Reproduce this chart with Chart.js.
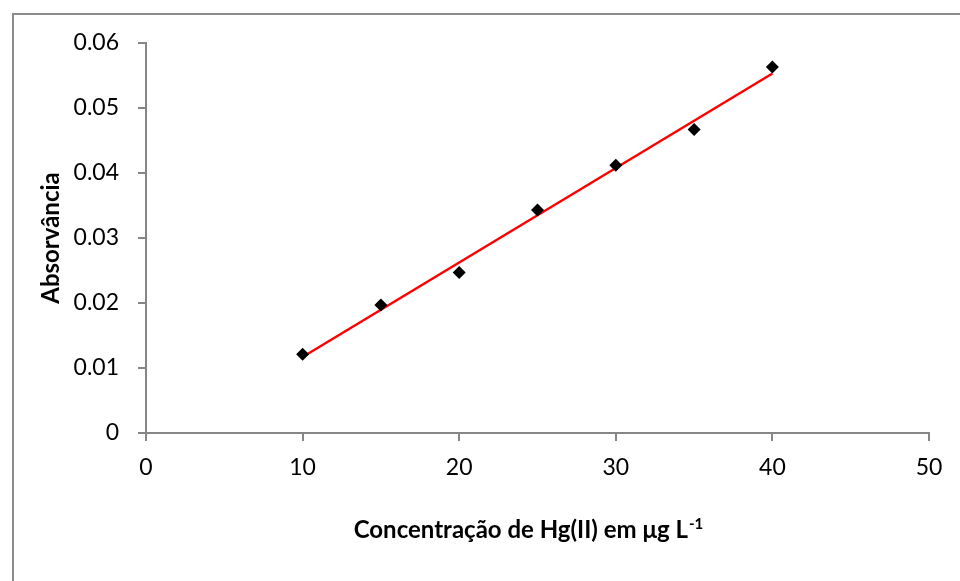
<!DOCTYPE html>
<html>
<head>
<meta charset="utf-8">
<script src="https://cdn.jsdelivr.net/npm/chart.js@4"></script>
<style>
  html, body { margin: 0; padding: 0; background: #fff; overflow: hidden; }
  #wrap { position: relative; width: 960px; height: 581px; }
  #frame { position: absolute; left: 12px; top: 13px; width: 1000px; height: 700px;
           border-left: 2px solid #8c8c8c; border-top: 2px solid #8c8c8c; box-sizing: border-box; }
  #c { position: absolute; left: 0; top: 0; }
</style>
</head>
<body>
<div id="wrap">
  <div id="frame"></div>
  <canvas id="c" width="960" height="581"></canvas>
</div>
<script>
// Calibration points: Hg(II) concentration (µg/L) vs absorbance
const concentration = [10, 15, 20, 25, 30, 35, 40];
const absorbance = [0.0121, 0.0197, 0.0247, 0.0343, 0.0412, 0.0467, 0.0563];

// Linear fit drawn between the first and last standards
const fitConcentration = [10, 40];
const fitAbsorbance = [0.0117, 0.0553];

// Axis ticks
const xTicks = [0, 10, 20, 30, 40, 50];
const yTicks = [0, 0.01, 0.02, 0.03, 0.04, 0.05, 0.06];

// Axis titles
const xTitleMain = 'Concentração de Hg(II) em μg L';
const xTitleSup = '-1';
const yTitle = 'Absorvância';

const FONT = 'Lato, "Open Sans", sans-serif';
const AXIS_GREY = '#868686';

const points = concentration.map((x, i) => ({ x, y: absorbance[i] }));
const fitLine = fitConcentration.map((x, i) => ({ x, y: fitAbsorbance[i] }));

// Bottom axis title with a superscript exponent
const xTitlePlugin = {
  id: 'xTitle',
  afterDraw(chart) {
    const { ctx, chartArea } = chart;
    const cx = (chartArea.left + chartArea.right) / 2 - 9;
    const baseY = 538;
    ctx.save();
    ctx.fillStyle = '#000';
    ctx.textBaseline = 'alphabetic';
    ctx.font = 'bold 24px ' + FONT;
    const wMain = ctx.measureText(xTitleMain).width;
    ctx.font = 'bold 15px ' + FONT;
    const wSup = ctx.measureText(xTitleSup).width;
    const start = cx - (wMain + wSup + 1) / 2;
    ctx.textAlign = 'left';
    ctx.font = 'bold 24px ' + FONT;
    ctx.fillText(xTitleMain, start, baseY);
    ctx.font = 'bold 15px ' + FONT;
    ctx.fillText(xTitleSup, start + wMain + 1, baseY - 9);
    ctx.restore();
  }
};

new Chart(document.getElementById('c'), {
  type: 'scatter',
  data: {
    datasets: [
      {
        label: 'Linear fit',
        type: 'line',
        data: fitLine,
        borderColor: '#ff0000',
        borderWidth: 2.5,
        pointRadius: 0,
        fill: false,
        order: 2
      },
      {
        label: 'Absorbance',
        data: points,
        pointStyle: 'rectRot',
        pointRadius: 6.5,
        backgroundColor: '#000',
        borderColor: '#000',
        borderWidth: 0,
        order: 1
      }
    ]
  },
  options: {
    responsive: false,
    animation: false,
    devicePixelRatio: 1,
    layout: { padding: { top: 43, right: 31, left: 0, bottom: 0 } },
    plugins: {
      legend: { display: false },
      tooltip: { enabled: false }
    },
    scales: {
      x: {
        type: 'linear',
        position: 'bottom',
        min: 0,
        max: 50,
        afterBuildTicks: s => { s.ticks = xTicks.map(v => ({ value: v })); },
        afterFit: s => { s.height = 148; },
        ticks: {
          color: '#000',
          font: { family: FONT, size: 23 },
          padding: 13,
          maxRotation: 0,
          callback: v => String(v)
        },
        grid: { drawOnChartArea: false, drawTicks: true, tickLength: 8, color: AXIS_GREY, lineWidth: 2 },
        border: { display: true, color: AXIS_GREY, width: 2 }
      },
      y: {
        type: 'linear',
        min: 0,
        max: 0.06,
        afterBuildTicks: s => { s.ticks = yTicks.map(v => ({ value: v })); },
        afterFit: s => { s.width = 146; },
        ticks: {
          color: '#000',
          font: { family: FONT, size: 23 },
          padding: 19,
          callback: v => (v === 0 ? '0' : v.toFixed(2))
        },
        grid: { drawOnChartArea: false, drawTicks: true, tickLength: 8, color: AXIS_GREY, lineWidth: 2 },
        border: { display: true, color: AXIS_GREY, width: 2 },
        title: {
          display: true,
          text: yTitle,
          color: '#000',
          font: { family: FONT, size: 24, weight: 'bold' },
          padding: { top: 37, bottom: 0 }
        }
      }
    }
  },
  plugins: [xTitlePlugin]
});
</script>
</body>
</html>
